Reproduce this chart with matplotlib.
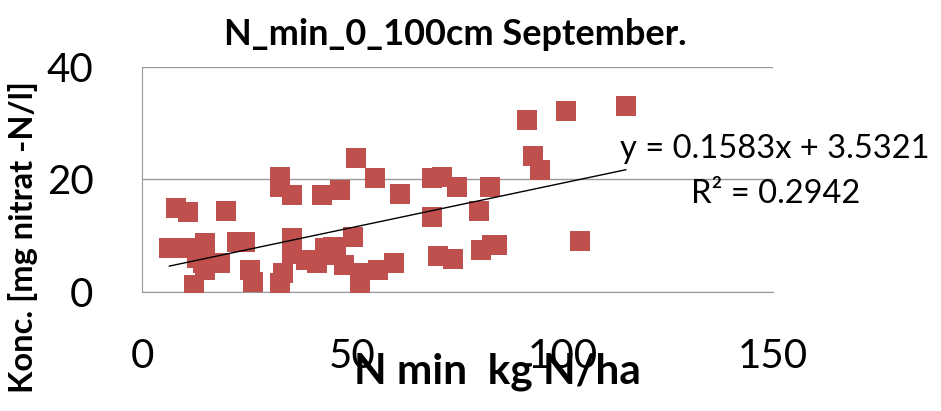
import matplotlib.pyplot as plt
import numpy as np

plt.rcParams['font.family'] = ['Lato', 'DejaVu Sans']

# N min (kg N/ha) and nitrate concentration (mg nitrat-N/l)
n_min = [8.1, 10.9, 20.0, 6.5, 10.2, 15.0, 12.4, 15.0, 14.6, 18.5,
         22.5, 24.5, 25.7, 26.5, 32.8, 32.8, 35.6, 35.6, 33.6, 32.8,
         35.6, 39.1, 41.5, 42.7, 47.1, 43.5, 45.5, 47.9, 50.2, 50.9,
         55.4, 51.8, 51.8, 56.2, 59.9, 61.3, 68.9, 71.2, 74.8, 68.9,
         70.4, 74.0, 82.7, 80.0, 80.6, 83.1, 84.4, 91.6, 100.8, 115.0,
         92.9, 94.6, 104.1, 13.0, 46.0]
konc = [14.9, 14.2, 14.4, 7.7, 7.8, 8.7, 1.2, 3.9, 5.1, 5.1,
        8.9, 8.9, 3.9, 1.8, 20.5, 18.7, 17.2, 9.5, 3.3, 1.5,
        6.8, 5.6, 5.1, 17.2, 18.1, 7.7, 8.0, 4.8, 9.8, 23.8,
        20.3, 1.2, 3.3, 3.9, 5.1, 17.4, 20.2, 20.5, 18.7, 13.4,
        6.4, 5.9, 18.7, 14.4, 7.4, 8.3, 8.3, 30.6, 32.2, 33.1,
        24.2, 21.7, 9.0, 6.0, 6.5]

slope, intercept = 0.1583, 3.5321
r2 = 0.2942

fig = plt.figure(figsize=(9.41, 4.11), dpi=100)
ax = fig.add_axes([0.1509, 0.2903, 0.6706, 0.5460])

ax.scatter(n_min, konc, marker='s', s=200, color='#C0504D', linewidths=0, zorder=3)

xl = np.array([min(n_min), max(n_min)])
ax.plot(xl, slope * xl + intercept, color='black', lw=1, zorder=4)

ax.set_xlim(0, 150)
ax.set_ylim(0, 40)
ax.set_xticks([0, 50, 100, 150])
ax.set_yticks([0, 20, 40])
ax.tick_params(length=0, labelsize=29)
ax.tick_params(axis='y', pad=35)
ax.tick_params(axis='x', pad=33)
ax.grid(axis='y', color='#999999', lw=1)
ax.set_axisbelow(True)
for s in ['top', 'right']:
    ax.spines[s].set_visible(False)
for s in ['left', 'bottom']:
    ax.spines[s].set_color('#999999')

ax.text(113.6, 23.8, f'y = {slope}x + {intercept}', fontsize=23.5,
        ha='left', va='baseline', clip_on=False)
ax.text(170.7, 15.8, f'R² = {r2}', fontsize=23.5,
        ha='right', va='baseline', clip_on=False)

fig.text(455 / 941, 1 - 45 / 411, 'N_min_0_100cm September.', fontsize=26,
         fontweight='bold', ha='center', va='baseline')
fig.text(497 / 941, 1 - 383 / 411, 'N min  kg N/ha', fontsize=30.5,
         fontweight='bold', ha='center', va='baseline')
fig.text(23 / 941, 1 - 237 / 411, 'Konc. [mg nitrat -N/l]', fontsize=23.5,
         fontweight='bold', ha='center', va='center', rotation=90)

fig.savefig('out.png', dpi=100)
